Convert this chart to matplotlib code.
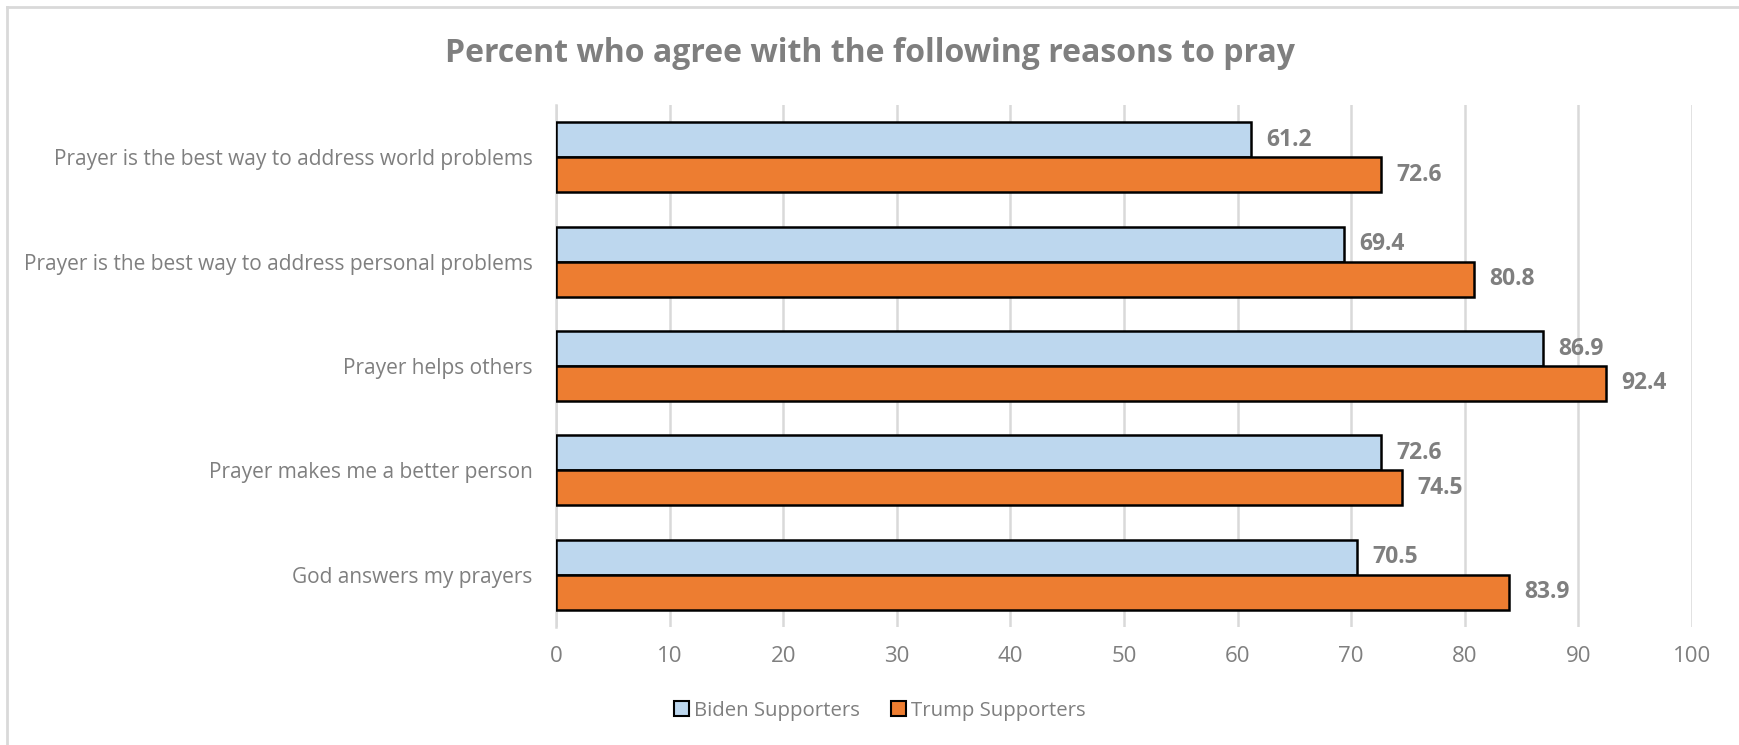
import matplotlib
matplotlib.use("Agg")
import matplotlib.pyplot as plt
from matplotlib.patches import Patch
from matplotlib.lines import Line2D
import numpy as np

categories = [
    "Prayer is the best way to address world problems",
    "Prayer is the best way to address personal problems",
    "Prayer helps others",
    "Prayer makes me a better person",
    "God answers my prayers",
]
biden = [61.2, 69.4, 86.9, 72.6, 70.5]
trump = [72.6, 80.8, 92.4, 74.5, 83.9]
series_names = ["Biden Supporters", "Trump Supporters"]
xticks = [0, 10, 20, 30, 40, 50, 60, 70, 80, 90, 100]

BLUE = "#BDD7EE"
ORANGE = "#ED7D31"
GRAY = "#7F7F7F"
GRID = "#D9D9D9"

plt.rcParams['font.family'] = ['Open Sans', 'DejaVu Sans']

W, H = 1739, 745
fig = plt.figure(figsize=(W / 100, H / 100), dpi=100)
ax = fig.add_axes([556 / W, 1 - 627 / H, (1692 - 556) / W, (627 - 105) / H])

n = len(categories)
y = np.arange(n)
bh = 0.335
ax.barh(y - bh / 2, biden, height=bh, color=BLUE, edgecolor="black", linewidth=1.8, zorder=3)
ax.barh(y + bh / 2, trump, height=bh, color=ORANGE, edgecolor="black", linewidth=1.8, zorder=3)

for yi, v in zip(y, biden):
    ax.annotate(f"{v:.1f}", (v, yi - bh / 2), xytext=(11, 0), textcoords="offset points",
                va="center", ha="left", fontsize=16.5, fontweight="bold", color=GRAY)
for yi, v in zip(y, trump):
    ax.annotate(f"{v:.1f}", (v, yi + bh / 2), xytext=(11, 0), textcoords="offset points",
                va="center", ha="left", fontsize=16.5, fontweight="bold", color=GRAY)

ax.set_ylim(n - 0.5, -0.5)
ax.set_xlim(0, 100)
ax.set_xticks(xticks)
ax.set_xticklabels([str(t) for t in xticks])
ax.set_yticks(y)
ax.set_yticklabels(categories)
ax.tick_params(axis="x", length=0, labelsize=16, labelcolor=GRAY, pad=14)
ax.tick_params(axis="y", length=0, labelsize=15, labelcolor=GRAY, pad=17)
ax.grid(axis="x", color=GRID, linewidth=1.8, zorder=0)
for s in ["top", "right", "bottom"]:
    ax.spines[s].set_visible(False)
ax.spines["left"].set_color(GRID)
ax.spines["left"].set_linewidth(1.8)

fig.text(870 / W, 1 - 53 / H, "Percent who agree with the following reasons to pray",
         ha="center", va="center", fontsize=23, fontweight="bold", color=GRAY)

handles = [Patch(facecolor=BLUE, edgecolor="black", linewidth=1.5),
           Patch(facecolor=ORANGE, edgecolor="black", linewidth=1.5)]
leg = fig.legend(handles, series_names, loc="center", bbox_to_anchor=(880 / W, 1 - 711 / H),
                 ncol=2, frameon=False, fontsize=14.7, handlelength=0.75, handleheight=0.75,
                 handletextpad=0.25, columnspacing=1.5)
for t in leg.get_texts():
    t.set_color(GRAY)

# chart border (top and left visible)
fig.add_artist(Line2D([7 / W, 7 / W], [0, 1 - 7 / H], transform=fig.transFigure, color=GRID, linewidth=2))
fig.add_artist(Line2D([7 / W, 1], [1 - 7 / H, 1 - 7 / H], transform=fig.transFigure, color=GRID, linewidth=2))

fig.savefig("out.png", dpi=100)
